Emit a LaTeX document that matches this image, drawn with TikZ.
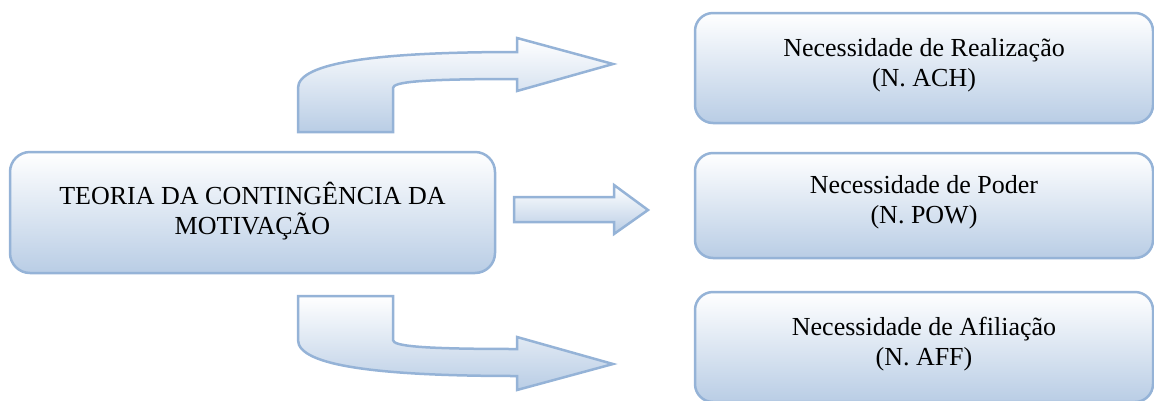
\documentclass[tikz,border=0pt]{standalone}
\usepackage{fontspec}
\setmainfont{Liberation Serif}
\usetikzlibrary{positioning,shapes,calc}
\definecolor{wordline}{RGB}{149,179,215}
\definecolor{wordfill}{RGB}{185,205,229}
\tikzstyle{mainbox}=[rectangle, rounded corners=20pt, draw=wordline, line width=2.5pt, top color=white, bottom color=wordfill, minimum width=485pt, minimum height=121pt, inner sep=2pt, outer sep=0pt, align=center, text depth=9pt, font=\fontsize{26}{30}\selectfont]
\tikzstyle{needbox}=[rectangle, rounded corners=18pt, draw=wordline, line width=2.5pt, top color=white, bottom color=wordfill, minimum width=458pt, minimum height=110pt, inner sep=2pt, outer sep=0pt, align=center, text depth=12pt, font=\fontsize{26}{30}\selectfont]
\tikzstyle{barrow}=[draw=wordline, line width=2.5pt, top color=white, bottom color=wordfill, line join=miter]

\begin{document}
\begin{tikzpicture}[x=1pt, y=-1pt]
\useasboundingbox (0,0) rectangle (1154,400);
\node (TCM) [mainbox] at (252.5,212.5) {TEORIA DA CONTINGÊNCIA DA\\MOTIVAÇÃO};
\node (ACH) [needbox] at (924,68) {Necessidade de Realização\\(N. ACH)};
\node (POW) [needbox, minimum height=105pt, below=30pt of ACH] {Necessidade de Poder\\(N. POW)};
\node (AFF) [needbox, below=34pt of POW] {Necessidade de Afiliação\\(N. AFF)};
% curved arrow up to ACH
\draw[barrow] (298,132) -- (298,88) .. controls (298,62) and (380,52) .. (517,52) -- (517,38) -- (613,64) -- (517,91) -- (517,79) .. controls (420,79) and (393,82) .. (393,88) -- (393,132) -- cycle;
% straight arrow to POW
\draw[barrow] (514,197) -- (614,197) -- (614,185) -- (648,210) -- (614,234) -- (614,222) -- (514,222) -- cycle;
% curved arrow down to AFF
\draw[barrow] (298,296) -- (298,340) .. controls (298,366) and (380,376) .. (517,376) -- (517,390) -- (613,364) -- (517,337) -- (517,349) .. controls (420,349) and (393,346) .. (393,340) -- (393,296) -- cycle;
\end{tikzpicture}
\end{document}
